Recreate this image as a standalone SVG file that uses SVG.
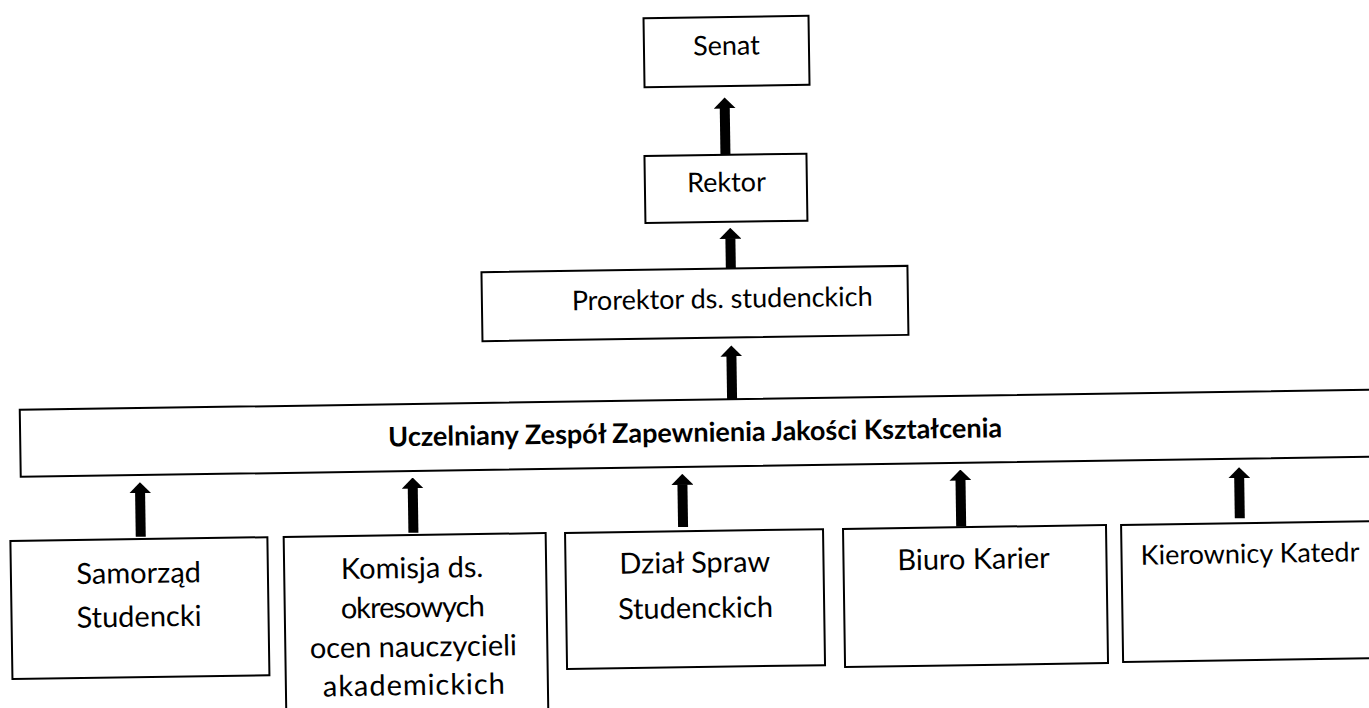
<svg xmlns="http://www.w3.org/2000/svg" width="1369" height="708" viewBox="0 0 1369 708">
<style>
.box{fill:#fff;stroke:#000;stroke-width:2}
.t{font-family:Lato,"Open Sans","Liberation Sans",sans-serif;font-size:27px;fill:#000;text-anchor:middle}
.s{font-size:29px}
.b{font-weight:bold;font-size:27px}
.arr{stroke:#000;stroke-width:10;fill:none;marker-end:url(#head)}
</style>
<defs>
<marker id="head" viewBox="0 0 11 22" refX="0.5" refY="11" markerWidth="11" markerHeight="22" markerUnits="userSpaceOnUse" orient="auto">
<path d="M0,0 L11,11 L0,22 Z" fill="#000"/>
</marker>
</defs>
<rect width="1369" height="708" fill="#fff"/>
<g transform="rotate(-0.85 684 354)">
<g id="senat"><rect class="box" x="648.5" y="17.6" width="165" height="69"/><text class="t" x="731" y="55.6">Senat</text></g>
<g id="rektor"><rect class="box" x="647.4" y="155.5" width="162" height="67"/><text class="t" x="729" y="192.3">Rektor</text></g>
<g id="prorektor"><rect class="box" x="482.7" y="269.2" width="426" height="69"/><text class="t" x="723" y="308.6">Prorektor ds. studenckich</text></g>
<g id="uzzjk"><rect class="box" x="19" y="400" width="1420" height="67"/><text class="t b" x="694" y="442">Uczelniany Zespół Zapewnienia Jakości Kształcenia</text></g>
<g id="samorzad"><rect class="box" x="7.7" y="531" width="257" height="138"/><text class="t s" x="135.5" y="575">Samorząd</text><text class="t s" x="135.2" y="618.6">Studencki</text></g>
<g id="komisja"><rect class="box" x="281" y="531" width="262" height="200"/><text class="t s" x="409" y="574">Komisja ds.</text><text class="t s" x="409" y="613.3" textLength="144">okresowych</text><text class="t s" x="409" y="652.7">ocen nauczycieli</text><text class="t s" x="409" y="691" textLength="182">akademickich</text></g>
<g id="dzial"><rect class="box" x="562.4" y="531.2" width="258" height="136"/><text class="t s" x="691.7" y="572.9">Dział Spraw</text><text class="t s" x="691.7" y="618.2">Studenckich</text></g>
<g id="biuro"><rect class="box" x="840.4" y="531.3" width="263" height="138"/><text class="t s" x="970.5" y="573.3">Biuro Karier</text></g>
<g id="kierownicy"><rect class="box" x="1118.5" y="531.5" width="280" height="137"/><text class="t" x="1247" y="571.4">Kierownicy Katedr</text></g>
<g id="connectors">
<line class="arr" x1="728.4" y1="155.5" x2="728.4" y2="108.6"/>
<line class="arr" x1="732.1" y1="269.2" x2="732.1" y2="239"/>
<line class="arr" x1="731.4" y1="400" x2="731.4" y2="356.7"/>
<line class="arr" x1="138.1" y1="528.7" x2="138.1" y2="484.7"/>
<line class="arr" x1="410.8" y1="528.7" x2="410.8" y2="484"/>
<line class="arr" x1="680.5" y1="527" x2="680.5" y2="484.3"/>
<line class="arr" x1="958.6" y1="530.5" x2="958.6" y2="484.1"/>
<line class="arr" x1="1237.3" y1="526.5" x2="1237.3" y2="485.9"/>
</g>
</g>
</svg>
